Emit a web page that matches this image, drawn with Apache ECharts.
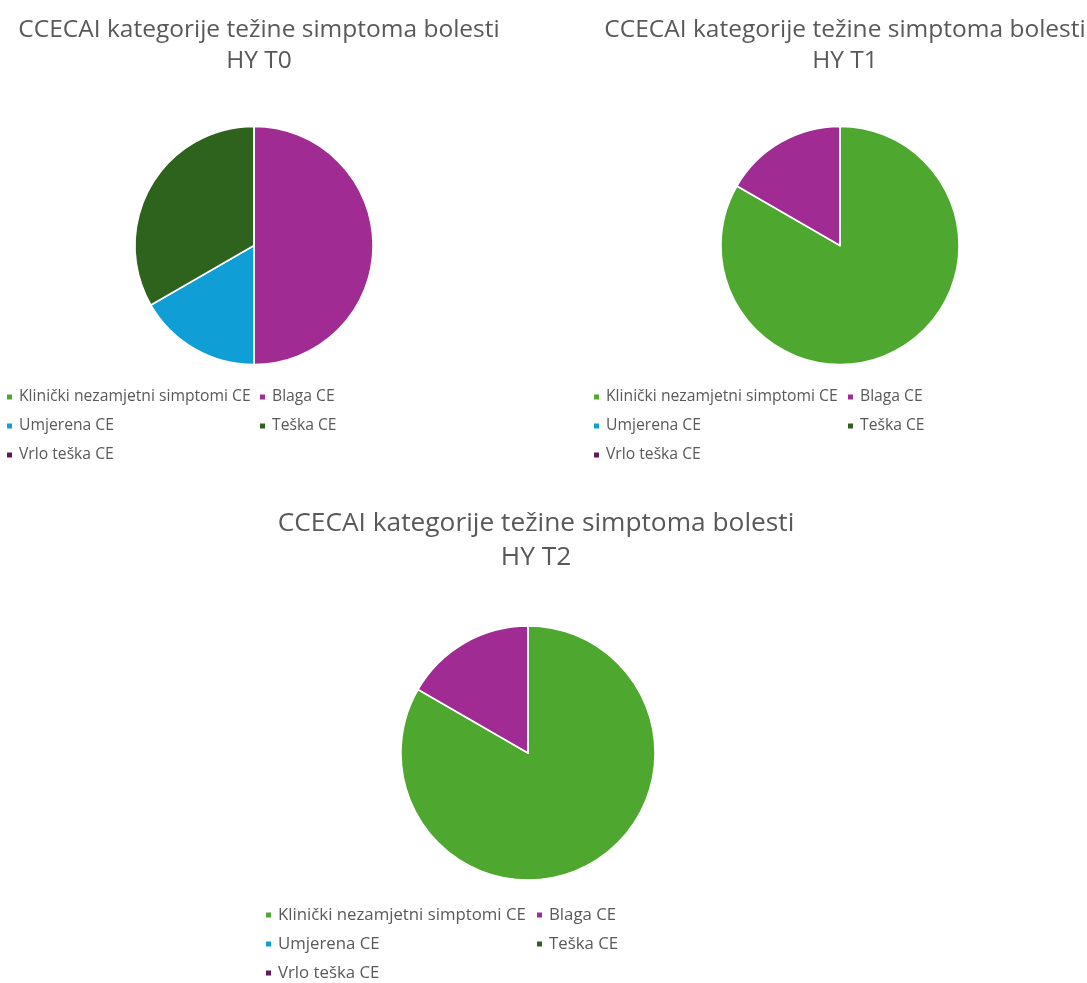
<!DOCTYPE html>
<html><head><meta charset="utf-8">
<script src="https://cdn.jsdelivr.net/npm/echarts@6/dist/echarts.min.js"></script>
<style>html,body{margin:0;padding:0;background:#fff;}#c{width:1087px;height:983px;}</style>
</head><body><div id="c"></div>
<script>
const categories = ['Klinički nezamjetni simptomi CE','Blaga CE','Umjerena CE','Teška CE','Vrlo teška CE'];
const colors = ['#4EA72E','#A02B93','#0F9ED5','#2E631E','#5F1A5A'];
const titles = ['CCECAI kategorije težine simptoma bolesti\nHY T0','CCECAI kategorije težine simptoma bolesti\nHY T1','CCECAI kategorije težine simptoma bolesti\nHY T2'];
const valuesT0 = [0, 3, 1, 2, 0];
const valuesT1 = [5, 1, 0, 0, 0];
const valuesT2 = [5, 1, 0, 0, 0];

const FONT = '"Open Sans", "Noto Sans", sans-serif';
const TXT = '#595959';
const charts = [
  {values: valuesT0, cx: 254, cy: 245.5, r: 119, tx: 254, ty: 10, tfs: 24.5, tlh: 31, lfs: 15.7, lx1: 5, lx2: 258, ly: 388},
  {values: valuesT1, cx: 840, cy: 245.5, r: 119, tx: 840, ty: 10, tfs: 24.5, tlh: 31, lfs: 15.7, lx1: 592, lx2: 846, ly: 388},
  {values: valuesT2, cx: 528, cy: 753, r: 127, tx: 531, ty: 502, tfs: 26.3, tlh: 34, lfs: 16.8, lx1: 264, lx2: 535, ly: 906}
];

const option = {
  animation: false,
  color: colors,
  title: [], legend: [], series: []
};
charts.forEach((c, i) => {
  option.title.push({
    text: titles[i], left: c.tx, top: c.ty, textAlign: 'center',
    textStyle: {fontFamily: FONT, fontSize: c.tfs, fontWeight: 'normal', color: TXT, lineHeight: c.tlh}
  });
  const legBase = {
    orient: 'vertical', icon: 'rect', itemWidth: 7, itemHeight: 7, itemGap: 11,
    top: c.ly, padding: 0,
    textStyle: {fontFamily: FONT, fontSize: c.lfs, color: TXT, lineHeight: 18, padding: [0, 0, 0, 1]}
  };
  option.legend.push(Object.assign({}, legBase, {left: c.lx1, data: [categories[0], categories[2], categories[4]]}));
  option.legend.push(Object.assign({}, legBase, {left: c.lx2, data: [categories[1], categories[3]]}));
  option.series.push({
    type: 'pie', center: [c.cx, c.cy], radius: c.r, startAngle: 90, clockwise: true,
    label: {show: false}, labelLine: {show: false}, silent: true,
    itemStyle: {borderColor: '#fff', borderWidth: 1.5},
    data: categories.map((n, k) => ({name: n, value: c.values[k]}))
  });
});
echarts.init(document.getElementById('c')).setOption(option);
</script></body></html>
